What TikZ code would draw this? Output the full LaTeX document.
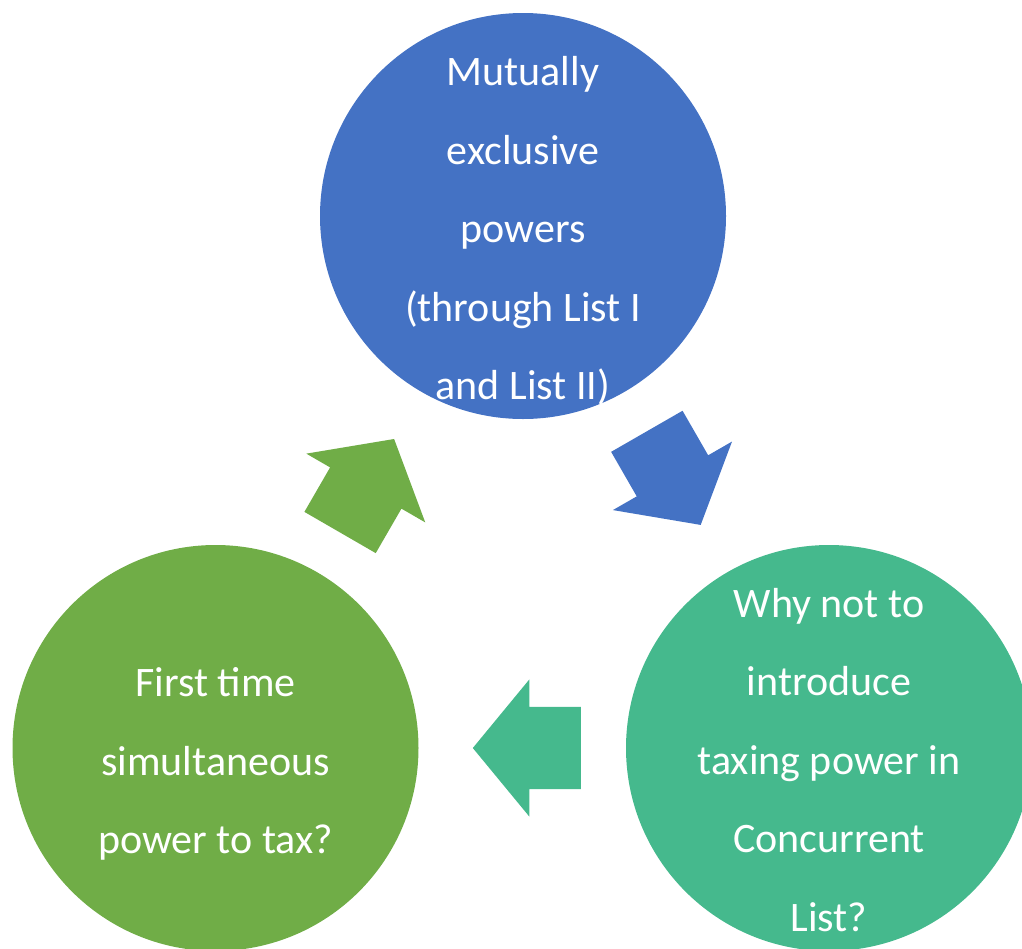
\documentclass[tikz,border=0pt]{standalone}
\usepackage{fontspec}
\setmainfont{Carlito}
\usetikzlibrary{shapes.arrows}

\definecolor{mutualblue}{HTML}{4472C4}
\definecolor{concurteal}{HTML}{45B98D}
\definecolor{firstgreen}{HTML}{70AD47}

\tikzset{
  bubble/.style={circle, minimum size=406pt, inner sep=0pt},
  bubbletext/.style={align=center, text=white, font=\fontsize{42}{78.5}\selectfont},
  flowarrow/.style={single arrow, minimum height=108pt,
    single arrow head extend=27.5pt, single arrow tip angle=101,
    inner xsep=0pt, inner ysep=41pt, sloped, allow upside down,
    anchor=tip, pos=0.74}
}

\begin{document}
\begin{tikzpicture}[x=1pt, y=-1pt]
  \useasboundingbox (0,0) rectangle (1022,948);
  \clip (0,0) rectangle (1022,948);

  \node[bubble, fill=mutualblue] (mutual) at (523,216) {};
  \node[bubble, fill=concurteal] (why) at (829,748) {};
  \node[bubble, fill=firstgreen] (first) at (215.5,748) {};

  \node[bubbletext, yshift=-15pt] (mutual_text) at (mutual)
    {Mutually\\exclusive\\powers\\(through List I\\and List II)};
  \node[bubbletext, yshift=-12pt] (why_text) at (why)
    {Why not to\\introduce\\taxing power in\\Concurrent\\List?};
  \node[bubbletext, yshift=-16pt] (first_text) at (first)
    {First time\\simultaneous\\power to tax?};

  \path (mutual) -- node[flowarrow, fill=mutualblue] (arrow_mw) {} (why);
  \path (why) -- node[flowarrow, fill=concurteal] (arrow_wf) {} (first);
  \path (first) -- node[flowarrow, fill=firstgreen] (arrow_fm) {} (mutual);
\end{tikzpicture}
\end{document}
